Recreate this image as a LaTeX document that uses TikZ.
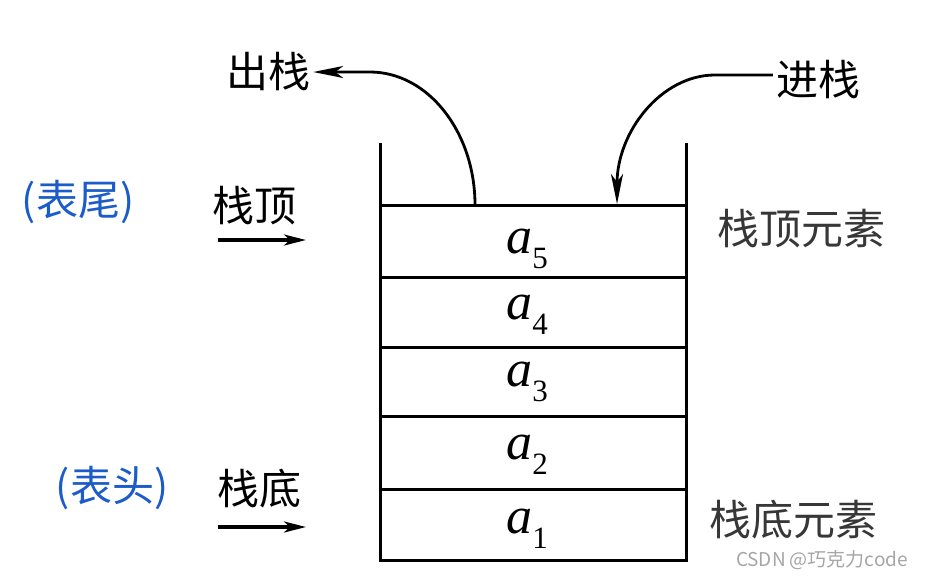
\documentclass[tikz,border=0pt]{standalone}
\usepackage{fontspec}
\setmainfont{Liberation Serif}
\newfontfamily\cjk{Noto Sans CJK SC}
\usetikzlibrary{arrows.meta}
\definecolor{penblue}{RGB}{28,92,200}
\definecolor{pengray}{RGB}{55,55,55}
\newcommand{\itemlab}[1]{\textit{a}\raisebox{-0.3em}{\fontsize{31}{31}\selectfont #1}}
\begin{document}
\begin{tikzpicture}[x=1pt,y=-1pt,
  wall/.style={line width=3pt},
  cjklab/.style={font=\cjk\fontsize{42}{44}\selectfont, inner sep=3pt},
  hand/.style={font=\cjk\fontsize{42}{44}\selectfont, inner sep=0pt},
  item/.style={font=\fontsize{52}{56}\selectfont, anchor=base, inner sep=0pt},
  arr/.style={line width=2.8pt, -{Stealth[length=30pt,width=12pt,inset=8pt]}},
  sarr/.style={line width=3.2pt, -{Stealth[length=22pt,width=11pt,inset=6pt]}}
]
\useasboundingbox (0,0) rectangle (925,579);
\fill[white] (0,0) rectangle (925,579);

% stack container
\draw[wall] (380,143) -- (380,560) -- (686,560) -- (686,143);
\foreach \yy in {205,277,347,416,489} {
  \draw[wall] (380,\yy) -- (686,\yy);
}

% elements
\node[item] (a5) at (527,253) {\itemlab{5}};
\node[item] (a4) at (527,319) {\itemlab{4}};
\node[item] (a3) at (527,386) {\itemlab{3}};
\node[item] (a2) at (527,459) {\itemlab{2}};
\node[item] (a1) at (527,533) {\itemlab{1}};

% push / pop labels
\node[cjklab] (out) at (268,72) {出栈};
\node[cjklab] (in) at (818,80) {进栈};
\coordinate (popstart) at (475,205);
\coordinate (pushend) at (617,204);
\draw[arr] (popstart) .. controls (475,132) and (428,72) .. (370,72) -- (out.east);
\draw[arr] ([yshift=5pt]in.west) -- (715,75) .. controls (661,75) and (617,132) .. (pushend);

% top / bottom pointers
\node[cjklab] (top) at (254,206) {栈顶};
\node[cjklab] (bot) at (259,489) {栈底};
\coordinate (topA) at (218,240);
\coordinate (topB) at (306,240);
\coordinate (botA) at (218,527);
\coordinate (botB) at (306,527);
\draw[sarr] (topA) -- (topB);
\draw[sarr] (botA) -- (botB);

% handwritten notes
\node[hand, text=penblue] (tail) at (78,202) {(表尾)};
\node[hand, text=penblue] (head) at (112,488) {(表头)};
\node[hand, text=pengray] (topel) at (801,229) {栈顶元素};
\node[hand, text=pengray] (botel) at (793,520) {栈底元素};

% watermark
\node[font=\cjk\fontsize{19}{20}\selectfont, text=black!35, inner sep=0pt] (wm) at (822,560) {CSDN @巧克力code};
\end{tikzpicture}
\end{document}
